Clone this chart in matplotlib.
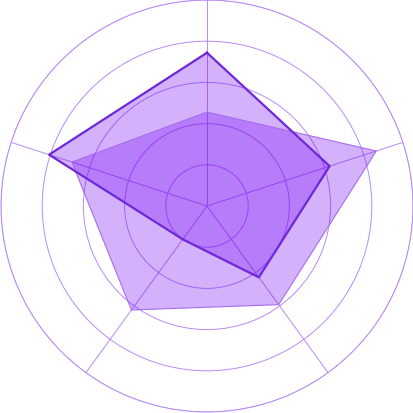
import numpy as np
import matplotlib.pyplot as plt

# radar values, 5 axes clockwise from top
axes_names = ['A', 'B', 'C', 'D', 'E']
series_1 = [3.72, 3.13, 2.14, 1.0, 4.03]
series_2 = [2.28, 4.32, 2.96, 3.12, 3.45]

n = len(axes_names)
angles = np.arange(n) * 2 * np.pi / n
angles_c = np.append(angles, angles[0])

fig = plt.figure(figsize=(4.14, 4.14), dpi=100)
ax = fig.add_axes([1 / 414, 1 / 414, 412 / 414, 412 / 414], polar=True)
ax.set_theta_zero_location('N')
ax.set_theta_direction(-1)

grid_col = '#b98af5'
fill_col = '#7302f5'

v2 = np.append(series_2, series_2[0])
ax.fill(angles_c, v2, color=fill_col, alpha=0.3, lw=0, zorder=2)
ax.plot(angles_c, v2, color='#a66cf0', lw=0.8, zorder=3)

v1 = np.append(series_1, series_1[0])
ax.fill(angles_c, v1, color=fill_col, alpha=0.3, lw=0, zorder=2)
ax.plot(angles_c, v1, color='#6d28d9', lw=1.6, zorder=4)

ax.set_thetalim(0, 2 * np.pi)
ax.set_ylim(0, 5)
ax.set_yticks([1, 2, 3, 4, 5])
ax.set_yticklabels([])
ax.set_xticks(angles)
ax.set_xticklabels([])
ax.grid(True, color=grid_col, lw=0.7, zorder=3)
ax.spines['polar'].set_color(grid_col)
ax.spines['polar'].set_linewidth(0.7)
ax.tick_params(length=0)

fig.savefig('out.png', dpi=100)
